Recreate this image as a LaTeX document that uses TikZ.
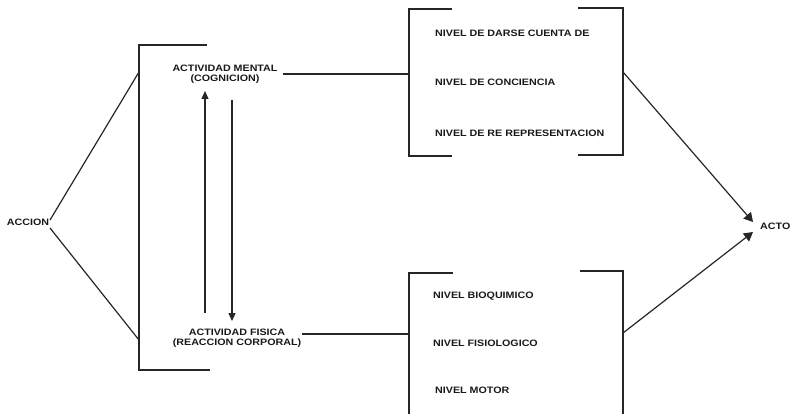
\documentclass[tikz,border=0pt]{standalone}
\usepackage{fontspec}
\newfontfamily\labfont[FakeStretch=1.15]{Liberation Sans}
\usetikzlibrary{arrows.meta}
\tikzset{
  lab/.style={font=\labfont\bfseries\fontsize{9.3}{12}\selectfont, inner sep=1pt, align=center, text=black!90},
  levlab/.style={lab, anchor=west},
  ln/.style={line width=1.2pt, black!85},
  arr/.style={ln, -{Triangle[length=8pt,width=7pt]}},
  bigarr/.style={ln, -{Triangle[length=9pt,width=10pt]}}
}
\begin{document}
\begin{tikzpicture}[x=1pt,y=-1pt]
\useasboundingbox (0,0) rectangle (791,414);
% labels
\node[lab] (accion) at (28,222) {ACCION};
\node[lab] (mental) at (225,74) {ACTIVIDAD MENTAL\\[-2pt](COGNICION)};
\node[lab] (fisica) at (237,338) {ACTIVIDAD FISICA\\[-2pt](REACCION CORPORAL)};
\node[lab, anchor=west] (acto) at (759,226) {ACTO};
\node[levlab] (n1) at (434,33) {NIVEL DE DARSE CUENTA DE};
\node[levlab] (n2) at (434,82) {NIVEL DE CONCIENCIA};
\node[levlab] (n3) at (434,133) {NIVEL DE RE REPRESENTACION};
\node[levlab] (b1) at (432,296) {NIVEL BIOQUIMICO};
\node[levlab] (b2) at (432,343) {NIVEL FISIOLOGICO};
\node[levlab] (b3) at (434,390) {NIVEL MOTOR};
% bracket coordinates
\coordinate (lbt) at (139,72);
\coordinate (lbb) at (139,340);
\coordinate (ta) at (50,220);
\coordinate (tb) at (50,228);
\coordinate (r1l) at (409,74);
\coordinate (r2l) at (409,334);
\coordinate (r1r) at (623,72);
\coordinate (r2r) at (623,333);
\coordinate (tip1) at (753,222);
\coordinate (tip2) at (753,232);
\coordinate (upS) at (205,313);
\coordinate (upE) at (205,91);
\coordinate (dnS) at (232,100);
\coordinate (dnE) at (232,321);
% left bracket
\draw[ln] (207,45) -- (139,45) -- (139,370) -- (210,370);
% top right box brackets
\draw[ln] (452,9) -- (409,9) -- (409,156) -- (452,156);
\draw[ln] (578,8) -- (623,8) -- (623,155) -- (578,155);
% bottom right box brackets
\draw[ln] (453,273) -- (409,273) -- (409,414);
\draw[ln] (580,271) -- (623,271) -- (623,414);
% connectors
\draw[ln] (ta) -- (lbt);
\draw[ln] (tb) -- (lbb);
\draw[ln] ([xshift=4pt]mental.east) -- (mental.east -| r1l);
\draw[ln] (fisica.east |- r2l) -- (r2l);
\draw[arr] (upS) -- (upE);
\draw[arr] (dnS) -- (dnE);
\draw[bigarr] (r1r) -- (tip1);
\draw[bigarr] (r2r) -- (tip2);
\end{tikzpicture}
\end{document}
